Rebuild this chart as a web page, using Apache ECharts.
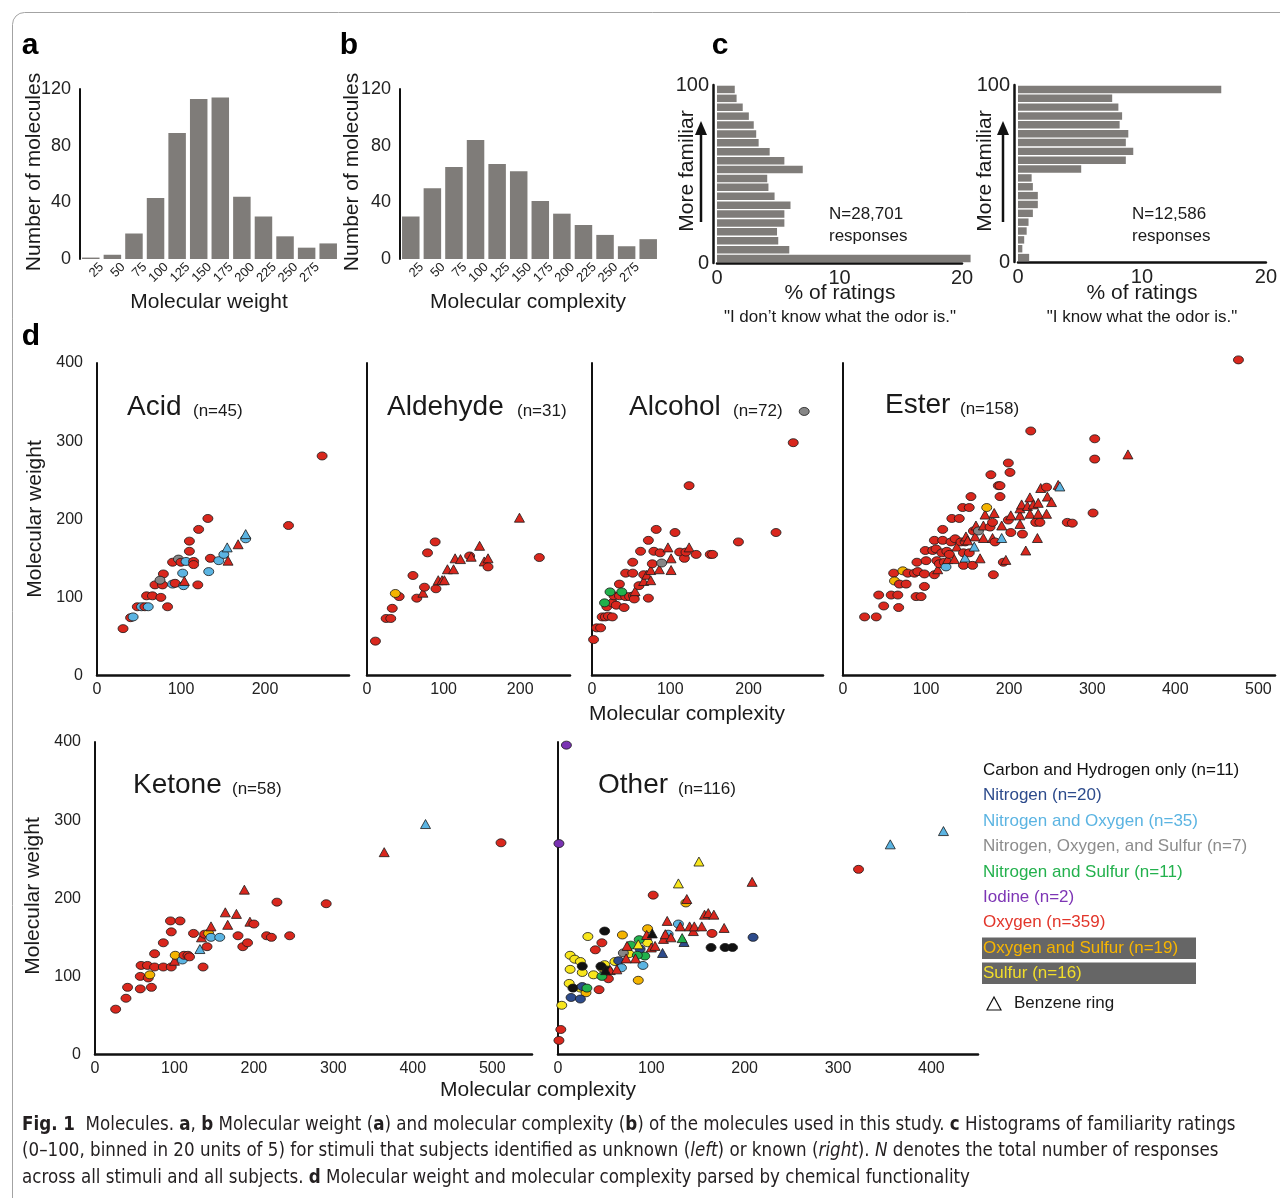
<!DOCTYPE html>
<html>
<head>
<meta charset="utf-8">
<script src="https://cdn.jsdelivr.net/npm/echarts@6.0.0/dist/echarts.min.js"></script>
<style>
  html, body { margin: 0; padding: 0; background: #fff; }
  #chart { width: 1280px; height: 1198px; }
</style>
</head>
<body>
<div id="chart"></div>
<script>
// ---- data ----
// a, b: histograms, bins of 25
const histTicks = [25, 50, 75, 100, 125, 150, 175, 200, 225, 250, 275];
const histBinCenters = [12.5, 37.5, 62.5, 87.5, 112.5, 137.5, 162.5, 187.5, 212.5, 237.5, 262.5, 287.5];
const weightCounts = [1, 3, 18, 43, 89, 113, 114, 44, 30, 16, 8, 11];
const complexityCounts = [30, 50, 65, 84, 67, 62, 41, 32, 24, 17, 9, 14];

// c: familiarity bins (bottom = 0-5, top = 95-100), % of ratings
const familiarityBins = ['0-5', '5-10', '10-15', '15-20', '20-25', '25-30', '30-35', '35-40', '40-45', '45-50',
  '50-55', '55-60', '60-65', '65-70', '70-75', '75-80', '80-85', '85-90', '90-95', '95-100'];
const unknownPct = [20.7, 5.9, 5.0, 4.9, 5.5, 5.5, 6.0, 4.7, 4.2, 4.1, 7.0, 5.5, 4.3, 3.4, 3.2, 3.0, 2.6, 2.1, 1.6, 1.45];
const knownPct = [0.9, 0.35, 0.5, 0.7, 0.85, 1.2, 1.6, 1.6, 1.2, 1.1, 5.1, 8.7, 9.3, 8.7, 8.9, 8.2, 8.4, 8.1, 7.6, 16.4];

// d: [complexity, weight, element group, benzene ring]
const acidPts = [[31,60,'O',0],[40,74,'O',0],[43,75,'NO',0],[48,88,'O',0],[53,88,'NO',0],[57,88,'O',0],[61,88,'NO',0],
  [59,102,'O',0],[66,102,'O',0],[76,100,'O',0],[69,116,'O',0],[78,116,'O',0],[79,130,'O',0],[75,122,'NOS',0],[84,88,'O',0],
  [90,117,'NO',0],[93,118,'O',0],[90,145,'O',0],[97,149,'NOS',0],[100,145,'O',0],[102,131,'NO',0],[103,115,'NO',0],
  [106,146,'NO',0],[110,159,'O',0],[110,172,'O',0],[115,146,'O',0],[115,142,'O',0],[120,116,'O',0],[121,187,'O',0],
  [132,201,'O',0],[133,133,'NO',0],[135,150,'O',0],[145,147,'NO',0],[151,155,'NO',0],[155,164,'NO',1],[156,147,'O',1],
  [168,168,'O',1],[177,175,'NO',0],[177,181,'NO',1],[104,121,'O',1],[228,192,'O',0],[268,281,'O',0]];
const aldehydePts = [[11,44,'O',0],[25,73,'O',0],[31,73,'O',0],[33,86,'O',0],[42,101,'O',0],[37,105,'OS',0],[60,128,'O',0],
  [65,99,'O',0],[73,106,'O',1],[75,113,'O',0],[79,157,'O',0],[89,171,'O',0],[90,111,'O',0],[93,122,'O',1],[98,122,'O',1],
  [101,122,'O',1],[105,136,'O',1],[113,136,'O',1],[115,150,'O',1],[122,149,'O',1],[134,153,'O',0],[136,152,'O',1],
  [147,166,'O',1],[153,146,'O',1],[158,150,'O',1],[158,139,'O',0],[199,202,'O',1],[225,151,'O',0]];
const alcoholPts = [[2,46,'O',0],[6,61,'O',0],[11,61,'O',0],[13,75,'O',0],[17,75,'O',0],[21,76,'O',0],[26,75,'O',0],
  [19,88,'O',0],[26,93,'O',0],[31,90,'O',0],[28,102,'O',0],[35,117,'O',0],[35,102,'O',0],[41,87,'O',0],[43,101,'O',0],
  [48,101,'O',0],[53,102,'O',0],[54,98,'O',0],[43,131,'O',0],[52,131,'O',0],[52,145,'O',0],[55,108,'O',1],[60,115,'O',0],
  [62,159,'O',0],[66,129,'O',0],[66,121,'O',1],[70,129,'O',1],[72,173,'O',0],[72,99,'O',0],[75,122,'O',1],[75,135,'O',1],
  [77,143,'O',0],[79,159,'O',0],[82,187,'O',0],[86,136,'O',1],[87,157,'O',0],[97,164,'O',1],[101,150,'O',1],[101,135,'O',1],
  [106,183,'O',0],[112,158,'O',0],[118,150,'O',0],[120,158,'O',0],[124,164,'O',1],[124,243,'O',0],[133,155,'O',0],
  [151,155,'O',0],[154,155,'O',0],[187,171,'O',0],[235,183,'O',0],[257,298,'O',0],[271,338,'NOS',0],[89,144,'NOS',0],
  [16,93,'NS',0],[23,107,'NS',0],[38,107,'NS',0]];
const esterPts = [[26,75,'O',0],[40,75,'O',0],[43,103,'O',0],[49,89,'O',0],[58,103,'O',0],[66,103,'O',0],[67,87,'O',0],
  [61,131,'O',0],[62,121,'OS',0],[72,134,'OS',0],[68,117,'O',0],[76,117,'O',0],[78,131,'O',0],[86,131,'O',0],[89,145,'O',0],
  [90,133,'O',0],[88,101,'O',0],[94,101,'O',0],[98,130,'O',0],[98,114,'O',0],[99,160,'O',0],[100,147,'O',0],[108,160,'O',0],
  [110,129,'O',0],[110,173,'O',0],[112,162,'O',0],[113,147,'O',0],[114,136,'O',1],[116,143,'O',0],[119,157,'O',0],
  [120,187,'O',0],[120,173,'O',0],[122,145,'O',0],[124,139,'NO',0],[125,159,'O',0],[126,149,'O',1],[128,155,'O',0],
  [130,171,'O',0],[131,201,'O',0],[134,149,'O',1],[135,175,'O',0],[137,165,'O',1],[140,201,'O',0],[142,171,'O',0],
  [144,215,'O',0],[145,157,'O',0],[145,141,'O',0],[147,151,'NO',1],[147,171,'O',0],[148,178,'O',1],[150,173,'O',1],
  [152,157,'O',0],[152,215,'O',0],[154,229,'O',0],[156,141,'O',0],[157,185,'O',0],[158,165,'NO',1],[159,178,'O',1],
  [160,192,'O',1],[163,185,'NOS',0],[165,150,'O',1],[169,176,'O',1],[169,192,'O',1],[171,206,'O',1],[173,215,'OS',0],
  [177,190,'O',0],[178,257,'O',0],[180,196,'O',0],[180,176,'O',1],[182,208,'O',1],[183,171,'O',0],[181,129,'O',0],
  [187,243,'O',0],[189,243,'O',0],[189,229,'O',0],[191,176,'NO',1],[191,192,'O',1],[193,145,'O',0],[196,148,'O',1],
  [199,199,'O',0],[199,272,'O',0],[201,260,'O',0],[202,205,'O',1],[202,183,'O',0],[213,205,'O',1],[213,214,'O',1],
  [213,194,'O',1],[215,219,'O',1],[216,181,'O',0],[220,160,'O',1],[222,217,'O',1],[225,228,'O',1],[225,207,'O',1],
  [226,313,'O',0],[229,219,'O',1],[232,196,'O',0],[234,176,'O',1],[235,221,'O',1],[235,207,'O',1],[237,196,'O',0],
  [238,240,'O',1],[245,241,'O',0],[245,207,'O',1],[246,229,'O',1],[251,222,'O',1],[259,244,'O',1],[261,242,'NO',1],
  [270,196,'O',0],[276,195,'O',0],[301,208,'O',0],[303,303,'O',0],[303,277,'O',0],[343,283,'O',1],[476,404,'O',0]];
const ketonePts = [[26,58,'O',0],[39,72,'O',0],[41,86,'O',0],[57,84,'O',0],[57,100,'O',0],[58,114,'O',0],[66,114,'O',0],
  [67,98,'O',0],[69,102,'OS',0],[71,86,'O',0],[75,129,'O',0],[75,112,'O',0],[86,112,'O',0],[86,143,'O',0],[95,171,'O',0],
  [96,157,'O',0],[96,112,'O',0],[100,120,'O',1],[101,127,'OS',0],[107,171,'O',0],[110,121,'NO',0],[112,127,'O',0],
  [117,127,'O',0],[119,125,'O',0],[124,155,'O',0],[132,135,'NO',1],[134,150,'O',1],[136,112,'O',0],[138,154,'O',0],
  [141,138,'O',0],[143,155,'OS',0],[146,150,'NO',0],[146,164,'O',1],[157,150,'NO',0],[164,182,'O',1],[167,166,'O',1],
  [178,180,'O',1],[180,152,'O',0],[186,138,'O',0],[188,211,'O',1],[192,143,'O',0],[195,170,'O',1],[200,167,'O',0],
  [216,152,'O',0],[222,150,'O',0],[229,195,'O',0],[245,152,'O',0],[291,193,'O',0],[364,259,'O',1],[416,295,'NO',1],
  [511,271,'O',0]];
const otherPts = [[9,396,'I',0],[1,270,'I',0],[1,18,'O',0],[3,32,'O',0],[47,143,'O',0],[40,134,'O',0],[44,83,'O',0],
  [54,97,'O',0],[102,204,'O',0],[165,155,'O',0],[322,237,'O',0],
  [4,63,'S',0],[12,91,'S',0],[13,109,'S',0],[13,127,'S',0],[18,122,'S',0],[24,119,'S',0],[26,105,'S',0],[24,85,'S',0],
  [32,151,'S',0],[38,102,'S',0],[50,115,'S',0],[61,119,'S',0],[76,129,'S',0],[96,143,'S',0],[47,111,'S',0],
  [86,95,'OS',0],[96,161,'OS',0],[69,153,'OS',0],[30,79,'OS',0],[137,194,'OS',0],
  [50,158,'C',0],[16,85,'C',0],[26,113,'C',0],[46,113,'C',0],[164,137,'C',0],[179,137,'C',0],[187,137,'C',0],[53,108,'C',0],
  [14,73,'N',0],[24,71,'N',0],[26,87,'N',0],[65,120,'N',0],[88,135,'N',0],[209,150,'N',0],[112,130,'N',1],[135,144,'N',1],
  [31,85,'NS',0],[47,100,'NS',0],[78,140,'NS',0],[87,147,'NS',0],[93,126,'NS',0],[85,127,'NS',0],[133,149,'NS',1],
  [91,114,'NO',0],[68,111,'NO',0],[129,167,'NO',0],[118,154,'NO',0],[356,269,'NO',1],[413,286,'NO',1],
  [70,130,'NOS',0],
  [56,108,'O',1],[63,109,'O',1],[74,139,'O',1],[83,123,'O',1],[95,153,'O',1],[100,137,'O',1],[104,139,'O',1],[113,148,'O',1],
  [115,154,'O',1],[117,171,'O',1],[121,150,'O',1],[131,164,'O',1],[138,199,'O',1],[141,164,'O',1],[145,158,'O',1],
  [146,164,'O',1],[154,164,'O',1],[157,179,'O',1],[161,181,'O',1],[167,179,'O',1],[178,162,'O',1],[208,221,'O',1],[73,123,'O',1],
  [101,155,'C',1],[51,108,'C',1],[129,219,'S',1],[151,247,'S',1],[86,141,'S',1]];

const legendKeys = ['C', 'N', 'NO', 'NOS', 'NS', 'I', 'O', 'OS', 'S'];
const legendLabels = ['Carbon and Hydrogen only (n=11)', 'Nitrogen (n=20)', 'Nitrogen and Oxygen (n=35)',
  'Nitrogen, Oxygen, and Sulfur (n=7)', 'Nitrogen and Sulfur (n=11)', 'Iodine (n=2)', 'Oxygen (n=359)',
  'Oxygen and Sulfur (n=19)', 'Sulfur (n=16)'];

// ---- styles ----
const FONT = '"Liberation Sans", Arial, sans-serif';
const CAP_FONT = '"Liberation Sans Narrow", "DejaVu Sans Condensed", sans-serif';
const BAR = '#7f7c79';
const groupColors = { C: '#111111', N: '#2d4b8c', NO: '#5bb4e2', NOS: '#868686', NS: '#22b14c', I: '#7a33b3',
  O: '#d9271d', OS: '#f4b400', S: '#f8e61c' };
const legendText = { C: '#111111', N: '#2d4b8c', NO: '#5bb4e2', NOS: '#8c8c8c', NS: '#23b14d', I: '#7d35b5',
  O: '#e2352a', OS: '#f7b500', S: '#f2de2a' };

let chart = echarts.init(document.getElementById('chart'))

let grids = []
let xAxes = []
let yAxes = []
let series = []
let graphics = []

function text (x, y, str, size, extra) {
  return Object.assign({
    type: 'text', x: x, y: y, silent: true,
    style: Object.assign({ text: str, fontSize: size, fontFamily: FONT, fill: '#1a1a1a', align: 'center', verticalAlign: 'middle' },
      (extra && extra.style) || {})
  }, extra && extra.rotation ? { rotation: extra.rotation } : {})
}

// a, b histograms
;[[weightCounts, 80, 'Molecular weight', 209], [complexityCounts, 400, 'Molecular complexity', 528]].forEach(function (h, i) {
  grids.push({ left: h[1], top: 89, width: 259, height: 170 })
  xAxes.push({
    gridIndex: i, type: 'value', min: 0, max: 300, interval: 25,
    axisLine: { show: false }, axisTick: { show: false }, splitLine: { show: false },
    axisLabel: { rotate: 45, fontSize: 13, fontFamily: FONT, color: '#222', margin: 6,
      formatter: function (v) { return histTicks.indexOf(v) >= 0 ? String(v) : '' } }
  })
  yAxes.push({
    gridIndex: i, type: 'value', min: 0, max: 120, interval: 40, offset: 3,
    axisLine: { show: true, lineStyle: { color: '#111', width: 2 } }, axisTick: { show: false }, splitLine: { show: false },
    axisLabel: { fontSize: 18, fontFamily: FONT, color: '#222', margin: 6 }
  })
  series.push({
    type: 'bar', xAxisIndex: i, yAxisIndex: i, barWidth: 17.5,
    itemStyle: { color: BAR },
    data: h[0].map(function (v, k) { return [histBinCenters[k], v] })
  })
  graphics.push(text(h[3], 302, h[2], 21))
  graphics.push(text(i === 0 ? 34 : 352, 172, 'Number of molecules', 21, { rotation: Math.PI / 2 }))
})

// c familiarity histograms
;[[unknownPct, 717, 245, 178, 840, '"I don\u2019t know what the odor is."', 'N=28,701', 829, 687, 701],
  [knownPct, 1018, 248, 177, 1142, '"I know what the odor is."', 'N=12,586', 1132, 985, 1003]].forEach(function (c, j) {
  let gi = grids.length
  grids.push({ left: c[1], top: 85, width: c[2], height: c[3] })
  let xi = xAxes.length
  xAxes.push({
    gridIndex: gi, type: 'value', min: 0, max: 20, interval: 10, offset: 2,
    axisLine: { show: true, lineStyle: { color: '#111', width: 2.5 } }, axisTick: { show: false }, splitLine: { show: false },
    axisLabel: { fontSize: 20, fontFamily: FONT, color: '#222', margin: 3 }
  })
  let yi = yAxes.length
  yAxes.push({ gridIndex: gi, type: 'category', position: 'left', data: familiarityBins, show: false })
  yAxes.push({
    gridIndex: gi, type: 'value', position: 'left', min: 0, max: 100, interval: 100, offset: 4,
    axisLine: { show: true, lineStyle: { color: '#111', width: 2.5 } }, axisTick: { show: false }, splitLine: { show: false },
    axisLabel: { fontSize: 20, fontFamily: FONT, color: '#222', margin: 4 }
  })
  series.push({
    type: 'bar', xAxisIndex: xi, yAxisIndex: yi, barCategoryGap: '16%', clip: false,
    itemStyle: { color: BAR }, data: c[0]
  })
  graphics.push(text(c[4], 293, '% of ratings', 21))
  graphics.push(text(c[4], 317, c[5], 17))
  graphics.push(text(c[7], 214, c[6], 17, { style: { align: 'left' } }))
  graphics.push(text(c[7], 236, 'responses', 17, { style: { align: 'left' } }))
  graphics.push(text(c[8], 171, 'More familiar', 21, { rotation: Math.PI / 2 }))
  graphics.push({ type: 'line', silent: true, shape: { x1: c[9], y1: 222, x2: c[9], y2: 132 }, style: { stroke: '#111', lineWidth: 2.5 } })
  graphics.push({ type: 'polygon', silent: true, shape: { points: [[c[9], 121], [c[9] - 6, 135], [c[9] + 6, 135]] }, style: { fill: '#111' } })
})

// d scatter panels
const panels = [
  { pts: acidPts, left: 97, top: 363, width: 252, max: 300, labels: true, title: 'Acid', n: '(n=45)', tx: 127, nx: 193, ty: 407 },
  { pts: aldehydePts, left: 367, top: 363, width: 203, max: 265, labels: false, title: 'Aldehyde', n: '(n=31)', tx: 387, nx: 517, ty: 407 },
  { pts: alcoholPts, left: 592, top: 363, width: 231, max: 295, labels: false, title: 'Alcohol', n: '(n=72)', tx: 629, nx: 733, ty: 407 },
  { pts: esterPts, left: 843, top: 363, width: 432, max: 520, labels: false, title: 'Ester', n: '(n=158)', tx: 885, nx: 960, ty: 405 },
  { pts: ketonePts, left: 95, top: 742, width: 437, max: 550, labels: true, title: 'Ketone', n: '(n=58)', tx: 133, nx: 232, ty: 785 },
  { pts: otherPts, left: 558, top: 742, width: 420, max: 450, labels: false, title: 'Other', n: '(n=116)', tx: 598, nx: 678, ty: 785 }
]
panels.forEach(function (p) {
  let gi = grids.length
  grids.push({ left: p.left, top: p.top, width: p.width, height: 312.5 })
  let xi = xAxes.length
  xAxes.push({
    gridIndex: gi, type: 'value', min: 0, max: p.max, interval: 100,
    axisLine: { show: true, lineStyle: { color: '#111', width: 2.5 } }, axisTick: { show: false }, splitLine: { show: false },
    axisLabel: { fontSize: 16, fontFamily: FONT, color: '#222', margin: 6,
      formatter: function (v) { return v % 100 === 0 && v < p.max ? String(v) : '' } }
  })
  let yi = yAxes.length
  yAxes.push({
    gridIndex: gi, type: 'value', min: 0, max: 400, interval: 100, offset: 6,
    axisLine: { show: true, lineStyle: { color: '#111', width: 2 } }, axisTick: { show: false }, splitLine: { show: false },
    axisLabel: { show: p.labels, fontSize: 16, fontFamily: FONT, color: '#222', margin: 8 }
  })
  series.push({
    type: 'scatter', xAxisIndex: xi, yAxisIndex: yi, clip: false,
    itemStyle: { borderColor: '#1a1a1a', borderWidth: 0.8, opacity: 1 },
    data: p.pts.map(function (d) {
      return {
        value: [d[0], d[1]],
        symbol: d[3] ? 'triangle' : 'circle',
        symbolSize: d[3] ? [10, 9] : [10, 8],
        itemStyle: { color: groupColors[d[2]] }
      }
    })
  })
  graphics.push(text(p.tx, p.ty, p.title, 28, { style: { align: 'left' } }))
  graphics.push(text(p.nx, p.ty + 4, p.n, 17, { style: { align: 'left' } }))
})

graphics.push(text(35, 519, 'Molecular weight', 21, { rotation: Math.PI / 2 }))
graphics.push(text(33, 896, 'Molecular weight', 21, { rotation: Math.PI / 2 }))
graphics.push(text(687, 714, 'Molecular complexity', 21))
graphics.push(text(538, 1090, 'Molecular complexity', 21))

// panel letters
;[['a', 30, 46], ['b', 349, 46], ['c', 720, 46], ['d', 31, 337]].forEach(function (l) {
  graphics.push(text(l[1], l[2], l[0], 30, { style: { fontWeight: 'bold', fill: '#000' } }))
})

// legend
const legendY = [770, 795, 821, 846, 872, 897, 922, 948, 973]
graphics.push({ type: 'rect', silent: true, shape: { x: 982, y: 937.5, width: 214, height: 21.5 }, style: { fill: '#666666' } })
graphics.push({ type: 'rect', silent: true, shape: { x: 982, y: 962.5, width: 214, height: 21.5 }, style: { fill: '#666666' } })
legendKeys.forEach(function (k, i) {
  graphics.push(text(983, legendY[i], legendLabels[i], 17, { style: { align: 'left', fill: legendText[k] } }))
})
graphics.push({ type: 'polygon', silent: true, shape: { points: [[994, 997], [987, 1010], [1001, 1010]] },
  style: { fill: 'none', stroke: '#111', lineWidth: 1.2 } })
graphics.push(text(1014, 1003, 'Benzene ring', 17, { style: { align: 'left' } }))

// caption
const captionLines = [
  '{b|Fig. 1}  Molecules. {b|a}, {b|b} Molecular weight ({b|a}) and molecular complexity ({b|b}) of the molecules used in this study. {b|c} Histograms of familiarity ratings',
  '(0\u2013100, binned in 20 units of 5) for stimuli that subjects identified as unknown ({i|left}) or known ({i|right}). {i|N} denotes the total number of responses',
  'across all stimuli and all subjects. {b|d} Molecular weight and molecular complexity parsed by chemical functionality'
]
const capSize = 18.6
captionLines.forEach(function (line, i) {
  graphics.push({
    type: 'text', x: 22, y: 1125 + i * 26.5, silent: true,
    style: {
      text: line, fontSize: capSize, fontFamily: CAP_FONT, fill: '#231f20', align: 'left', verticalAlign: 'middle',
      rich: {
        b: { fontSize: capSize, fontFamily: CAP_FONT, fontWeight: 'bold', fill: '#231f20' },
        i: { fontSize: capSize, fontFamily: CAP_FONT, fontStyle: 'italic', fill: '#231f20' }
      }
    }
  })
})

// frame
graphics.push({ type: 'rect', silent: true, z: -10, shape: { x: 12.5, y: 12.5, width: 1320, height: 1300, r: 12 },
  style: { fill: 'none', stroke: '#a3a3a3', lineWidth: 1 } })

chart.setOption({
  animation: false,
  grid: grids,
  xAxis: xAxes,
  yAxis: yAxes,
  series: series,
  graphic: { elements: graphics }
})
</script>
</body>
</html>
